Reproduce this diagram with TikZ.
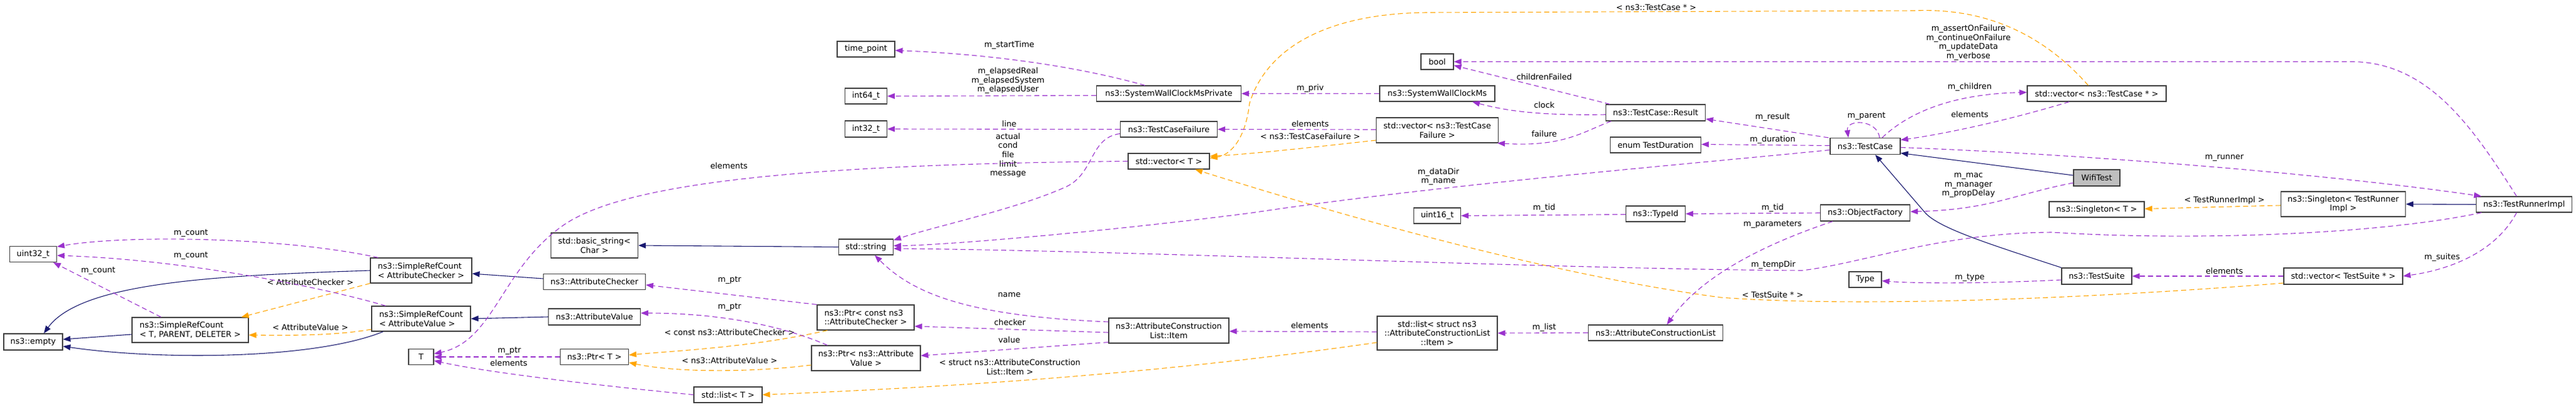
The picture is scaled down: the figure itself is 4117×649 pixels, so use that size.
\documentclass[tikz,border=0pt]{standalone}
\usepackage{fontspec}
\newfontfamily\dgfont{DejaVu Sans}
\usetikzlibrary{arrows.meta}
\definecolor{memc}{HTML}{9A32CD}
\definecolor{tplc}{HTML}{FFA500}
\definecolor{inhc}{HTML}{191970}
\definecolor{boxc}{HTML}{404040}
\definecolor{curc}{HTML}{BFBFBF}
\newcommand{\dgf}{\dgfont\fontsize{12.8pt}{14.6pt}\selectfont}
\tikzset{
	cls/.style={draw=boxc, line width=1.2pt, fill=white, inner sep=0pt, align=center, font=\dgf},
	clsl/.style={cls, align=left},
	wh/.style 2 args={minimum width=#1pt, minimum height=#2pt},
	lbl/.style={inner sep=0pt, align=center, font=\dgf},
	mem/.style={draw=memc, line width=1.1pt, dash pattern=on 8pt off 5pt, -{Triangle[length=12pt,width=9pt]}},
	tpl/.style={mem, draw=tplc},
	inh/.style={draw=inhc, line width=1.1pt, -{Triangle[length=12pt,width=9pt]}},
}
\begin{document}
\begin{tikzpicture}[x=1pt, y=-1pt]
			%%%%% START %%%%%
			\fill[white] (0,0) rectangle (4117,649);
			\useasboundingbox (0,0) rectangle (4117,649);
			
			%%%%% CLASSES %%%%%
			\node[cls, wh={75}{25}] (u32) at (53,406) {uint32\_t};
			\node[cls, wh={94}{26}] (empty) at (53,546) {ns3::empty};
			\node[clsl, wh={186}{40}] (srctpd) at (304,527) {ns3::SimpleRefCount\\< T, PARENT, DELETER >};
			\node[clsl, wh={162}{40}] (srcac) at (673,432) {ns3::SimpleRefCount\\< AttributeChecker >};
			\node[clsl, wh={158}{40}] (srcav) at (673,509) {ns3::SimpleRefCount\\< AttributeValue >};
			\node[cls, wh={40}{25}] (tt) at (673,570) {T};
			\node[cls, wh={139}{40}] (bstr) at (950,392) {std::basic\_string<\\Char >};
			\node[cls, wh={163}{25}] (achk) at (950,450) {ns3::AttributeChecker};
			\node[cls, wh={147}{26}] (aval) at (950,506) {ns3::AttributeValue};
			\node[cls, wh={109}{25}] (ptrt) at (950,570) {ns3::Ptr< T >};
			\node[cls, wh={109}{25}] (lstt) at (1163.5,630.5) {std::list< T >};
			\node[cls, wh={92}{25}] (tp) at (1384,78.5) {time\_point};
			\node[cls, wh={67}{25}] (i64) at (1384,153.5) {int64\_t};
			\node[cls, wh={67}{26}] (i32) at (1384,206) {int32\_t};
			\node[cls, wh={87}{25}] (str) at (1384,394.5) {std::string};
			\node[clsl, wh={155}{40}] (ptrac) at (1383.5,507) {ns3::Ptr< const ns3\\::AttributeChecker >};
			\node[cls, wh={174}{40}] (ptrav) at (1384,572) {ns3::Ptr< ns3::Attribute\\Value >};
			\node[cls, wh={231}{25}] (swcmp) at (1868,149.5) {ns3::SystemWallClockMsPrivate};
			\node[cls, wh={155}{25}] (tcf) at (1868,206.5) {ns3::TestCaseFailure};
			\node[cls, wh={130}{25}] (vect) at (1868,257.5) {std::vector< T >};
			\node[cls, wh={192}{40}] (item) at (1868,528) {ns3::AttributeConstruction\\List::Item};
			\node[cls, wh={52}{25}] (tbool) at (2297,98.5) {bool};
			\node[cls, wh={184}{25}] (swcm) at (2297,149.5) {ns3::SystemWallClockMs};
			\node[cls, wh={195}{40}] (vtcf) at (2297,208) {std::vector< ns3::TestCase\\Failure >};
			\node[cls, wh={75}{25}] (u16) at (2297,344.5) {uint16\_t};
			\node[cls, wh={192}{54}] (lsts) at (2297,532) {std::list< struct ns3\\::AttributeConstructionList\\::Item >};
			\node[cls, wh={159}{26}] (res) at (2646,180) {ns3::TestCase::Result};
			\node[cls, wh={145}{25}] (dur) at (2646,231.5) {enum TestDuration};
			\node[cls, wh={95}{25}] (tid) at (2646,341.5) {ns3::TypeId};
			\node[cls, wh={215}{25}] (acl) at (2646,531.5) {ns3::AttributeConstructionList};
			\node[cls, wh={112}{26}] (tc) at (2981,233.5) {ns3::TestCase};
			\node[cls, wh={143}{26}] (of) at (2981,340) {ns3::ObjectFactory};
			\node[cls, wh={52}{25}] (ttype) at (2981,446.5) {Type};
			\node[cls, wh={222}{25}] (vtc) at (3351,149.5) {std::vector< ns3::TestCase * >};
			\node[cls, wh={74}{26}, fill=curc] (wifi) at (3351,284) {WifiTest};
			\node[cls, wh={152}{25}] (sgt) at (3351,334.5) {ns3::Singleton< T >};
			\node[cls, wh={112}{26}] (ts) at (3351,441) {ns3::TestSuite};
			\node[cls, wh={199}{40}] (sgtr) at (3745,326) {ns3::Singleton< TestRunner\\Impl >};
			\node[cls, wh={190}{26}] (vts) at (3745,441) {std::vector< TestSuite * >};
			\node[cls, wh={153}{25}] (tri) at (4034,326.5) {ns3::TestRunnerImpl};
			
			%%%%% LABELS %%%%%
			\node[lbl] (lcnt1) at (305,373) {m\_count};
			\node[lbl] (lcnt2) at (305,409) {m\_count};
			\node[lbl] (lcnt3) at (157,433) {m\_count};
			\node[lbl] (lchk) at (496,451) {< AttributeChecker >};
			\node[lbl] (lval) at (496,523) {< AttributeValue >};
			\node[lbl] (lptr1) at (814,561) {m\_ptr};
			\node[lbl] (lel1) at (813,580) {elements};
			\node[lbl] (lel2) at (1165,265) {elements};
			\node[lbl] (lptr2) at (1166,448) {m\_ptr};
			\node[lbl] (lptr3) at (1166,491) {m\_ptr};
			\node[lbl] (lcac) at (1166,531) {< const ns3::AttributeChecker >};
			\node[lbl] (lcav) at (1166,576) {< ns3::AttributeValue >};
			\node[lbl] (lstart) at (1613,72) {m\_startTime};
			\node[lbl] (lelap) at (1611,129) {m\_elapsedReal\\m\_elapsedSystem\\m\_elapsedUser};
			\node[lbl] (lline) at (1613,198) {line};
			\node[lbl] (lfail) at (1611,248) {actual\\cond\\file\\limit\\message};
			\node[lbl] (lname) at (1613,471) {name};
			\node[lbl] (lchecker) at (1614,515) {checker};
			\node[lbl] (lvalue) at (1613,543) {value};
			\node[lbl] (lstruct) at (1614,586) {< struct ns3::AttributeConstruction\\List::Item >};
			\node[lbl] (lpriv) at (2094,141) {m\_priv};
			\node[lbl] (lel3) at (2094,198) {elements};
			\node[lbl] (ltcf) at (2094,218) {< ns3::TestCaseFailure >};
			\node[lbl] (lel4) at (2093,520) {elements};
			\node[lbl] (ltcp) at (2647,12) {< ns3::TestCase * >};
			\node[lbl] (lchild) at (2468,123) {childrenFailed};
			\node[lbl] (lclock) at (2468,168) {clock};
			\node[lbl] (lfailure) at (2468,214) {failure};
			\node[lbl] (ldata) at (2299,282) {m\_dataDir\\m\_name};
			\node[lbl] (ltid1) at (2468,332) {m\_tid};
			\node[lbl] (llist) at (2468,523) {m\_list};
			\node[lbl] (lflags) at (3146,68) {m\_assertOnFailure\\m\_continueOnFailure\\m\_updateData\\m\_verbose};
			\node[lbl] (lchildren) at (3148,139) {m\_children};
			\node[lbl] (lel5) at (3148,183) {elements};
			\node[lbl] (lresult) at (2833,187) {m\_result};
			\node[lbl] (lparent) at (2983,186) {m\_parent};
			\node[lbl] (ldur) at (2833,223) {m\_duration};
			\node[lbl] (lmac) at (3146,296) {m\_mac\\m\_manager\\m\_propDelay};
			\node[lbl] (ltid2) at (2833,332) {m\_tid};
			\node[lbl] (lparam) at (2833,359) {m\_parameters};
			\node[lbl] (ltemp) at (2834,423) {m\_tempDir};
			\node[lbl] (lts) at (2833,471) {< TestSuite * >};
			\node[lbl] (ltype) at (3148,444) {m\_type};
			\node[lbl] (lrunner) at (3555,252) {m\_runner};
			\node[lbl] (ltri) at (3555,320) {< TestRunnerImpl >};
			\node[lbl] (lel6) at (3555,433) {elements};
			\node[lbl] (lsuites) at (3903,411) {m\_suites};
			
			%%%%% INHERITANCE %%%%%
			\draw[inh] (srcac.west) .. controls (350,440) and (130,450) .. ([xshift=17pt]empty.north);
			\draw[inh] ([yshift=-7pt]srctpd.west) -- ([yshift=4pt]empty.east);
			\draw[inh] ([xshift=19pt]srcav.south west) .. controls (500,575) and (250,575) .. ([yshift=-7pt]empty.east);
			\draw[inh] ([yshift=5pt]achk.west) -- ([yshift=-5pt]srcac.east);
			\draw[inh] (aval.west) -- (srcav.east);
			\draw[inh] (str.west) -- (bstr.east);
			\draw[inh] ([yshift=4pt]wifi.west) -- ([yshift=-11pt]tc.east);
			\draw[inh] (ts.north west) .. controls (3180,390) and (3100,365) .. (3077,340) -- ([xshift=16pt]tc.south);
			\draw[inh] (tri.west) -- (sgtr.east);
			
			%%%%% TEMPLATES %%%%%
			\draw[tpl] (srcac.south west) -- ([xshift=-12pt]srctpd.north east);
			\draw[tpl] ([yshift=-17pt]srcav.west) .. controls (540,535) and (480,536) .. ([yshift=-8pt]srctpd.east);
			\draw[tpl] ([xshift=17pt]ptrac.south west) .. controls (1200,555) and (1080,560) .. ([yshift=3pt]ptrt.east);
			\draw[tpl] ([yshift=-11pt]ptrav.west) .. controls (1200,595) and (1080,595) .. ([yshift=-9pt]ptrt.east);
			\draw[tpl] ([yshift=-15pt]lsts.west) .. controls (1900,590) and (1600,615) .. (lstt.east);
			\draw[tpl] ([yshift=-16pt]vtcf.west) .. controls (2100,235) and (2000,246) .. ([yshift=8pt]vect.east);
			\draw[tpl] ([xshift=98pt]vtc.north west) .. controls (3270,60) and (3180,12) .. (3060,17) -- (2280,20) .. controls (2100,22) and (2020,90) .. (1997,165) .. controls (1990,225) and (1965,248) .. ([yshift=5pt]vect.east);
			\draw[tpl] ([yshift=-11pt]vts.west) .. controls (3300,480) and (2950,490) .. (2750,475) .. controls (2450,435) and (2100,330) .. ([xshift=42pt]vect.south);
			\draw[tpl] ([yshift=-2pt]sgtr.west) -- ([yshift=1pt]sgt.east);
			
			%%%%% MEMBERS %%%%%
			\draw[mem] ([xshift=13pt]srcac.north west) .. controls (450,378) and (200,375) .. ([yshift=12pt]u32.east);
			\draw[mem] ([xshift=23pt]srcav.north west) .. controls (520,460) and (300,415) .. ([yshift=-2pt]u32.east);
			\draw[mem] ([xshift=47pt]srctpd.north west) -- ([xshift=-6pt]u32.south east);
			\draw[mem] (ptrt.west) -- (tt.east);
			\draw[mem] (lstt.west) .. controls (950,615) and (780,595) .. ([yshift=-6pt]tt.east);
			\draw[mem] (vect.west) .. controls (1300,262) and (1000,290) .. (900,360) .. controls (800,430) and (790,545) .. ([yshift=5pt]tt.east);
			\draw[mem] (ptrac.north west) -- ([yshift=-5pt]achk.east);
			\draw[mem] ([xshift=26pt]ptrav.north west) .. controls (1250,520) and (1150,500) .. ([yshift=6pt]aval.east);
			\draw[mem] ([xshift=78pt]swcmp.north west) .. controls (1700,100) and (1550,85) .. ([yshift=-2pt]tp.east);
			\draw[mem] ([yshift=-3pt]swcmp.west) -- (i64.east);
			\draw[mem] (tcf.west) -- (i32.east);
			\draw[mem] ([yshift=-7pt]tcf.west) .. controls (1740,220) and (1750,280) .. (1700,300) .. controls (1620,335) and (1500,360) .. ([yshift=11pt]str.east);
			\draw[mem] ([yshift=14pt]item.west) .. controls (1550,505) and (1460,470) .. ([xshift=14pt]str.south);
			\draw[mem] ([yshift=-3pt]item.west) -- ([yshift=-14pt]ptrac.east);
			\draw[mem] ([yshift=2pt]item.south west) -- ([yshift=4pt]ptrav.east);
			\draw[mem] ([yshift=2pt]lsts.west) -- ([yshift=-1pt]item.east);
			\draw[mem] (swcm.west) -- (swcmp.east);
			\draw[mem] ([yshift=1pt]vtcf.west) -- (tcf.east);
			\draw[mem] ([xshift=7pt]res.north west) -- ([yshift=-6pt]tbool.east);
			\draw[mem] ([yshift=-3pt]res.west) .. controls (2450,185) and (2400,175) .. ([xshift=56pt]swcm.south);
			\draw[mem] ([xshift=9pt]res.south west) .. controls (2530,210) and (2500,235) .. ([xshift=-2pt]vtcf.south east);
			\draw[mem] ([xshift=-12pt]tri.north) .. controls (3950,200) and (3880,100) .. (3760,98.5) -- (tbool.east);
			\draw[mem] ([xshift=27pt]tc.north) .. controls (3050,180) and (3120,150) .. ([yshift=2pt]vtc.west);
			\draw[mem] ([xshift=-44pt]vtc.south) .. controls (3200,195) and (3100,215) .. ([yshift=10pt]tc.east);
			\draw[mem] ([xshift=-2pt]tc.north west) -- ([yshift=-10pt]res.east);
			\draw[mem] ([xshift=23pt]tc.north) .. controls (3000,190) and (2950,190) .. ([xshift=-27pt]tc.north);
			\draw[mem] ([yshift=1pt]tc.west) -- ([yshift=1pt]dur.east);
			\draw[mem] ([yshift=-6pt]tc.west) .. controls (2700,262) and (2300,295) .. (2000,340) .. controls (1750,372) and (1500,392) .. ([yshift=2pt]str.east);
			\draw[mem] ([yshift=-2pt]tc.east) .. controls (3300,245) and (3700,275) .. ([xshift=9pt]tri.north west);
			\draw[mem] ([yshift=-8pt]wifi.west) .. controls (3220,310) and (3180,335) .. ([yshift=2pt]of.east);
			\draw[mem] (of.west) -- (tid.east);
			\draw[mem] ([yshift=-1pt]tid.west) -- (u16.east);
			\draw[mem] ([xshift=20pt]of.south west) .. controls (2820,390) and (2720,440) .. ([xshift=18pt]acl.north);
			\draw[mem] (acl.west) -- (lsts.east);
			\draw[mem] ([yshift=-6pt]ts.west) .. controls (3150,454) and (3050,452) .. ([yshift=-2pt]ttype.east);
			\draw[mem] (vts.west) -- (ts.east);
			\draw[mem] ([xshift=-12pt]tri.south) .. controls (3990,400) and (3920,430) .. (vts.east);
			\draw[mem] ([xshift=9pt]tri.south west) .. controls (3800,375) and (3500,385) .. (3280,371) .. controls (3100,372) and (2980,420) .. (2880,432) .. controls (2500,430) and (1800,400) .. ([yshift=-2.5pt]str.east);
			
			%%%%% END %%%%%
\end{tikzpicture}
\end{document}
